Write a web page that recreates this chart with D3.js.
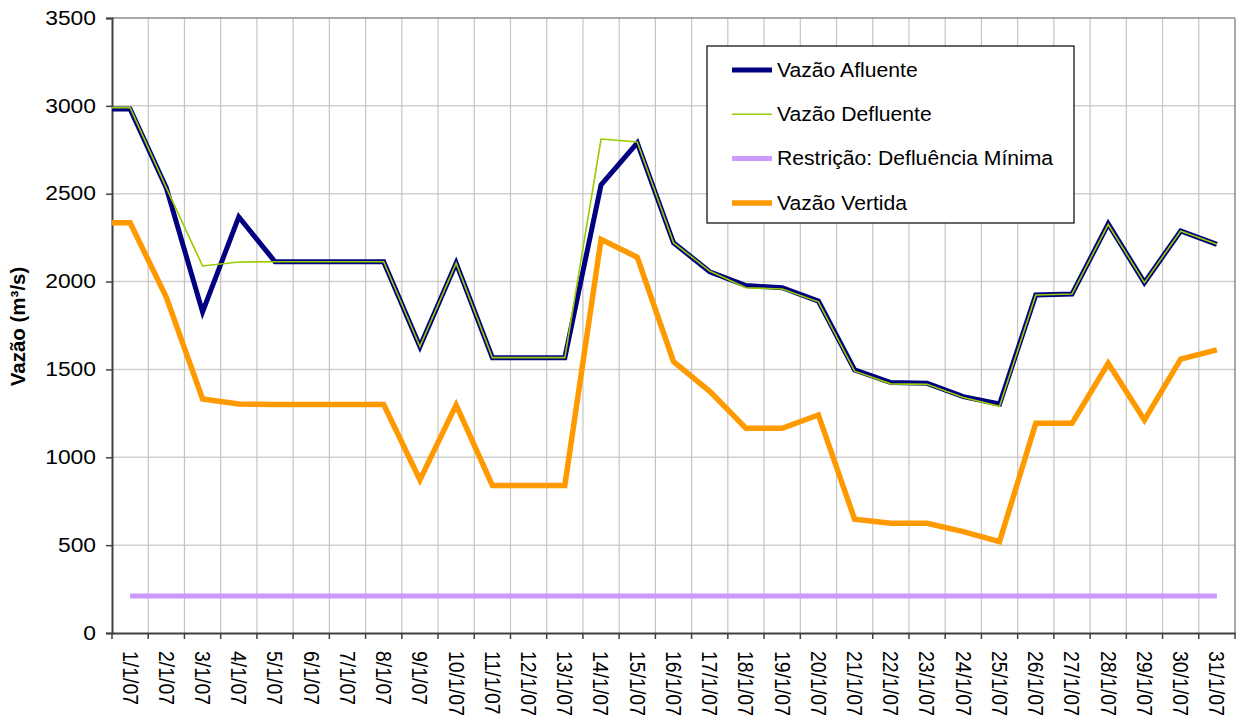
<!DOCTYPE html>
<html>
<head>
<meta charset="utf-8">
<script src="https://cdn.jsdelivr.net/npm/d3@7"></script>
<style>
  html, body { margin: 0; padding: 0; background: #fff; }
  svg { display: block; font-family: Arial, "Liberation Sans", sans-serif; }
</style>
</head>
<body>
<svg id="chart" width="1236" height="715"></svg>
<script>
const categories = ["1/1/07","2/1/07","3/1/07","4/1/07","5/1/07","6/1/07","7/1/07","8/1/07","9/1/07","10/1/07",
  "11/1/07","12/1/07","13/1/07","14/1/07","15/1/07","16/1/07","17/1/07","18/1/07","19/1/07","20/1/07",
  "21/1/07","22/1/07","23/1/07","24/1/07","25/1/07","26/1/07","27/1/07","28/1/07","29/1/07","30/1/07","31/1/07"];

const vazaoAfluente = [2982, 2533, 1827, 2368, 2113, 2113, 2113, 2113, 1630, 2105,
  1567, 1567, 1567, 2550, 2790, 2221, 2056, 1977, 1965, 1889,
  1497, 1425, 1421, 1345, 1303, 1924, 1929, 2328, 1994, 2288, 2212];

const vazaoDefluente = [2990, 2533, 2089, 2111, 2113, 2113, 2113, 2113, 1630, 2105,
  1567, 1567, 1567, 2811, 2794, 2221, 2060, 1965, 1958, 1885,
  1490, 1418, 1415, 1340, 1290, 1924, 1929, 2325, 1994, 2288, 2212];

const defluenciaMinima = [210, 210, 210, 210, 210, 210, 210, 210, 210, 210,
  210, 210, 210, 210, 210, 210, 210, 210, 210, 210,
  210, 210, 210, 210, 210, 210, 210, 210, 210, 210, 210];

const vazaoVertida = [2335, 1910, 1332, 1303, 1300, 1300, 1300, 1300, 871, 1298,
  840, 840, 840, 2240, 2138, 1545, 1375, 1165, 1165, 1241,
  647, 624, 624, 577, 520, 1193, 1193, 1535, 1212, 1559, 1611];

const yTicks = [0, 500, 1000, 1500, 2000, 2500, 3000, 3500];
const yLabel = "Vazão (m³/s)";
const legendNames = ["Vazão Afluente", "Vazão Defluente", "Restrição: Defluência Mínima", "Vazão Vertida"];

const W = 1236, H = 715;
const plot = { left: 112, right: 1235, top: 18, bottom: 633 };
const stretch = 1.17;
const legendStretch = 1.085;

const svg = d3.select("#chart");

const x = d3.scaleBand().domain(categories).range([plot.left, plot.right]).padding(0);
const y = d3.scaleLinear().domain([0, 3500]).range([plot.bottom, plot.top]);
const cx = c => x(c) + x.bandwidth() / 2;

// horizontal gridlines
svg.append("g").selectAll("line").data(yTicks.filter(t => t > 0 && t < 3500)).join("line")
  .attr("x1", plot.left).attr("x2", plot.right)
  .attr("y1", d => y(d)).attr("y2", d => y(d))
  .attr("stroke", "#d0d0d0").attr("stroke-width", 1.5);

// vertical gridlines at category boundaries
svg.append("g").selectAll("line").data(categories.slice(1)).join("line")
  .attr("x1", d => x(d)).attr("x2", d => x(d))
  .attr("y1", plot.top).attr("y2", plot.bottom)
  .attr("stroke", "#c4c4c4").attr("stroke-width", 1.2);

// top and right border
svg.append("line").attr("x1", plot.left).attr("x2", plot.right).attr("y1", plot.top).attr("y2", plot.top)
  .attr("stroke", "#8c8c8c").attr("stroke-width", 1.5);
svg.append("line").attr("x1", plot.right).attr("x2", plot.right).attr("y1", plot.top).attr("y2", plot.bottom)
  .attr("stroke", "#8c8c8c").attr("stroke-width", 1.5);

// Y axis
const yAxis = d3.axisLeft(y).tickValues(yTicks).tickSize(6).tickFormat(d3.format("d"));
const gy = svg.append("g").attr("transform", `translate(${plot.left},0)`).call(yAxis);
gy.select(".domain").attr("stroke", "#404040").attr("stroke-width", 2);
gy.selectAll(".tick line").attr("stroke", "#404040").attr("stroke-width", 1.5);
gy.selectAll(".tick text")
  .attr("x", -16 / stretch)
  .attr("transform", `scale(${stretch},1)`)
  .attr("font-size", 19.5).attr("fill", "#000")
  .attr("font-family", "Arial, 'Liberation Sans', sans-serif");

// X axis (ticks at boundaries)
const xAxis = d3.axisBottom(x).tickSize(0).tickFormat("");
const gx = svg.append("g").attr("transform", `translate(0,${plot.bottom})`).call(xAxis);
gx.select(".domain").attr("stroke", "#404040").attr("stroke-width", 2);
gx.selectAll(".tick").remove();
const boundaries = categories.map(c => x(c)).concat([plot.right]);
svg.append("g").selectAll("line").data(boundaries).join("line")
  .attr("x1", d => d).attr("x2", d => d)
  .attr("y1", plot.bottom).attr("y2", plot.bottom + 6)
  .attr("stroke", "#404040").attr("stroke-width", 1.5);

// X labels rotated
svg.append("g").selectAll("text").data(categories).join("text")
  .attr("transform", d => `translate(${cx(d)},${plot.bottom + 18}) rotate(90) scale(1,${stretch * 0.95})`)
  .attr("dy", "0.35em")
  .attr("text-anchor", "start")
  .attr("font-size", 19.5)
  .attr("fill", "#000")
  .text(d => d);

// Y label
svg.append("text")
  .attr("transform", `translate(25,${(plot.top + plot.bottom) / 2 + 1}) rotate(-90)`)
  .attr("text-anchor", "middle")
  .attr("font-size", 20.5)
  .attr("font-weight", "bold")
  .attr("fill", "#000")
  .text(yLabel);

// lines
function seriesPoints(values, extendLeft) {
  const pts = categories.map((c, i) => [cx(c), y(values[i])]);
  if (extendLeft) pts.unshift([x.range()[0], y(values[0])]);
  return pts;
}
const line = d3.line();

const series = [
  { name: legendNames[3], values: vazaoVertida, color: "#ff9900", width: 5.5, ext: true },
  { name: legendNames[2], values: defluenciaMinima, color: "#cc99ff", width: 5, ext: false },
  { name: legendNames[0], values: vazaoAfluente, color: "#000080", width: 5, ext: true },
  { name: legendNames[1], values: vazaoDefluente, color: "#99cc00", width: 1.6, ext: true }
];

svg.append("g").selectAll("path").data(series).join("path")
  .attr("d", s => line(seriesPoints(s.values, s.ext)))
  .attr("fill", "none")
  .attr("stroke", s => s.color)
  .attr("stroke-width", s => s.width)
  .attr("stroke-linejoin", "miter")
  .attr("stroke-linecap", "butt");

// legend
const legendOrder = [series[2], series[3], series[1], series[0]];
const lg = svg.append("g").attr("transform", "translate(707,46)");
lg.append("rect").attr("x", 0).attr("y", 0).attr("width", 367).attr("height", 177)
  .attr("fill", "#fff").attr("stroke", "#000").attr("stroke-width", 1.2);
const rows = lg.selectAll("g.row").data(legendOrder).join("g")
  .attr("class", "row")
  .attr("transform", (d, i) => `translate(0,${24 + i * 44.3})`);
rows.append("line").attr("x1", 25).attr("x2", 65).attr("y1", 0).attr("y2", 0)
  .attr("stroke", d => d.color).attr("stroke-width", d => d.width);
rows.append("text")
  .attr("transform", `translate(70,0) scale(${legendStretch},1)`)
  .attr("dy", "0.35em")
  .attr("font-size", 19.5).attr("fill", "#000").text(d => d.name);
</script>
</body>
</html>
